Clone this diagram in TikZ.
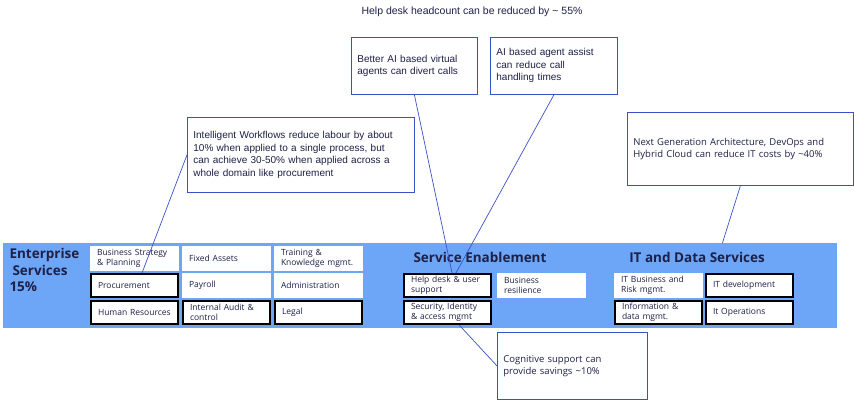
\documentclass[tikz,border=0pt]{standalone}
\usepackage{fontspec}
\setmainfont{Liberation Sans}
\newfontfamily\plexfont{Open Sans}
\usetikzlibrary{positioning}
\definecolor{bandblue}{RGB}{110,166,247}
\definecolor{lineblue}{RGB}{58,82,200}
\definecolor{ink}{RGB}{30,32,70}

\begin{document}
\begin{tikzpicture}[x=1pt,y=-1pt,
	cell/.style={fill=white, minimum width=89pt, minimum height=25pt, text width=75pt, inner xsep=7pt, inner ysep=0pt, outer sep=0pt, align=left, text=ink, font=\plexfont\fontsize{8.5}{10.5}\selectfont},
	key/.style={cell, draw=black, line width=2pt, outer sep=1pt, minimum width=87pt, minimum height=23pt, text width=73pt, inner xsep=6pt},
	note/.style={draw=lineblue, line width=0.8pt, fill=white, anchor=north west, align=left, inner xsep=6pt, text=ink, font=\fontsize{10}{12.5}\selectfont},
	plexnote/.style={note, font=\plexfont\fontsize{9.5}{12.5}\selectfont},
	title/.style={text=ink, font=\plexfont\bfseries\fontsize{13.5}{16.5}\selectfont},
	link/.style={draw=lineblue, line width=0.7pt}]
\useasboundingbox (0,0) rectangle (854,400);

% band with the three domains
\node[fill=bandblue, minimum width=834pt, minimum height=85pt, inner sep=0pt, outer sep=0pt, anchor=north west] (band) at (3,243) {};
\node[title, align=left, anchor=north west] (enterprise) at (6,245) {Enterprise\\\hspace{3pt}Services\\15\%};
\node[title] (enablement) at (480,257) {Service Enablement};
\node[title] (itdata) at (697,257) {IT and Data Services};

% Enterprise Services
\node[cell, anchor=north west] (strategy) at (90,246) {Business Strategy\\\& Planning};
\node[cell, right=3pt of strategy] (assets) {Fixed Assets};
\node[cell, right=3pt of assets] (training) {Training \&\\Knowledge mgmt.};
\node[key, below=2pt of strategy] (procure) {Procurement};
\node[cell, below=2pt of assets] (payroll) {Payroll};
\node[cell, below=2pt of training] (admin) {Administration};
\node[key, below=2pt of procure] (hr) {Human Resources};
\node[key, below=2pt of payroll] (audit) {Internal Audit \&\\control};
\node[key, below=2pt of admin] (legal) {Legal};

% Service Enablement
\node[key, anchor=north west] (helpdesk) at (403,273) {Help desk \& user\\support};
\node[cell, right=5pt of helpdesk] (resilience) {Business\\resilience};
\node[key, below=2pt of helpdesk] (security) {Security, Identity\\\& access mgmt};

% IT and Data Services
\node[cell, anchor=north west] (itrisk) at (614,273) {IT Business and\\Risk mgmt.};
\node[key, right=2pt of itrisk] (itdev) {IT development};
\node[key, below=2pt of itrisk] (infodata) {Information \&\\data mgmt.};
\node[key, below=2pt of itdev] (itops) {It Operations};

% notes
\node[text=ink, font=\fontsize{10.5}{12}\selectfont] (headcount) at (472,12) {Help desk headcount can be reduced by \textasciitilde{} 55\%};
\node[note, text width=114pt, minimum height=57pt] (better) at (351,37) {Better AI based virtual\\agents can divert calls};
\node[note, text width=115pt, minimum height=57pt] (assist) at (490,37) {AI based agent assist\\can reduce call\\handling times};
\node[note, text width=215pt, minimum height=75pt] (workflows) at (187,117) {Intelligent Workflows reduce labour by about\\10\% when applied to a single process, but\\can achieve 30-50\% when applied across a\\whole domain like procurement};
\node[plexnote, text width=214pt, minimum height=73pt] (nextgen) at (627,112) {Next Generation Architecture, DevOps and\\Hybrid Cloud can reduce IT costs by \textasciitilde40\%};
\node[plexnote, text width=138pt, minimum height=67pt] (cognitive) at (497,332) {Cognitive support can\\provide savings \textasciitilde10\%};

\draw[link] (workflows.west) -- (procure.59);
\draw[link] (better.south) -- (helpdesk.70);
\draw[link] (assist.south) -- (helpdesk.56);
\draw[link] (nextgen.south) -- (band.8.4);
\draw[link] (cognitive.west) -- (security.-47);
\end{tikzpicture}
\end{document}
